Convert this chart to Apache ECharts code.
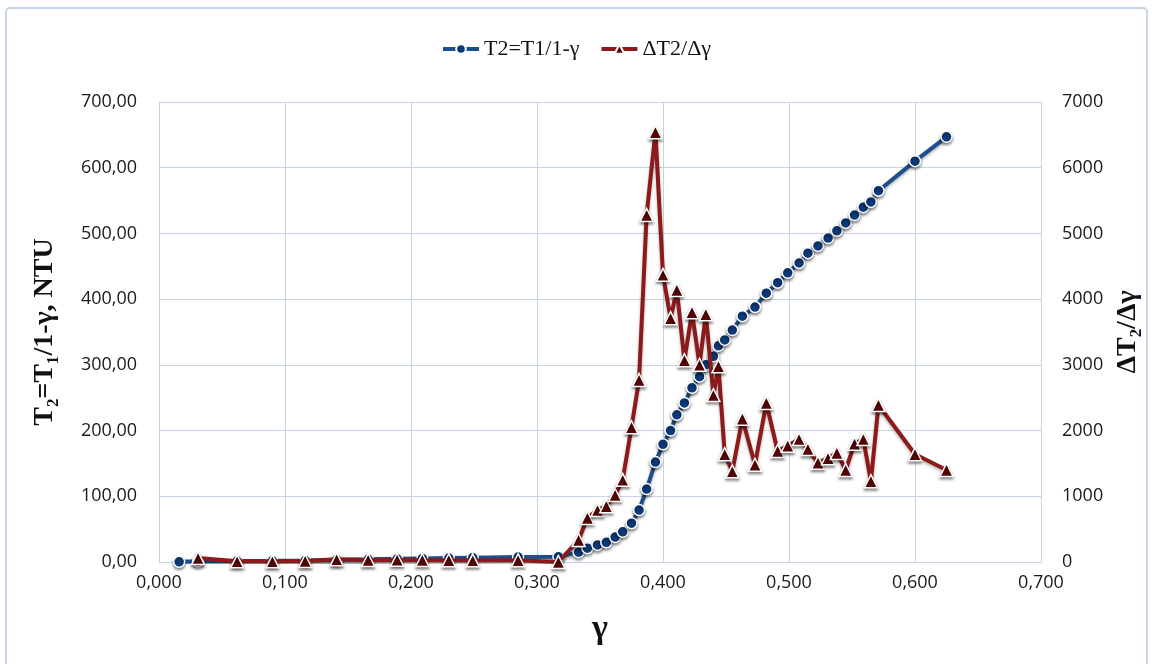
<!DOCTYPE html>
<html>
<head>
<meta charset="utf-8">
<script src="https://cdn.jsdelivr.net/npm/echarts@6/dist/echarts.min.js"></script>
<style>
html,body{margin:0;padding:0;background:#fff;}
#c{width:1152px;height:664px;}
</style>
</head>
<body>
<div id="c"></div>
<script>
// γ values (shared x positions)
const gamma = [0.016,0.031,0.062,0.090,0.116,0.141,0.166,0.189,0.209,0.230,0.249,0.285,0.317,
  0.333,0.340,0.348,0.355,0.362,0.368,0.375,0.381,0.387,0.394,0.400,0.406,0.411,0.417,0.423,0.429,0.434,0.440,0.444,0.449,0.455,
  0.463,0.473,0.482,0.491,0.499,0.508,0.515,0.523,0.531,0.538,0.545,0.552,0.559,0.565,0.571,0.600,0.625];
// T2 = T1/1-γ (left axis)
const t2 = [0.3,1.2,1.5,1.8,2.2,3.2,4.0,4.8,5.4,6.0,6.5,7.5,8.0,
  15,21,26,30,38,46,59,79,111,152,179,200,224,242,265,282,300,313,329,338,353,
  374,388,409,425,440,455,470,481,493,504,516,528,540,548,565,610,647];
// ΔT2/Δγ (right axis), starts at gamma[1]
const dT2 = [60,10,10,15,40,32,34,30,28,26,28,0,
  335,670,790,850,1020,1250,2050,2770,5280,6540,4370,3710,4140,3070,3800,3000,3770,2540,2980,1640,1380,
  2180,1480,2420,1690,1770,1870,1720,1510,1580,1660,1400,1800,1870,1230,2390,1640,1400];
const xTicks = [0,0.1,0.2,0.3,0.4,0.5,0.6,0.7];

const blueData = gamma.map((g,i)=>[g,t2[i]]);
const redData = dT2.map((v,i)=>[gamma[i+1],v]);

const chart = echarts.init(document.getElementById('c'));
const labelFont = {color:'#1a1a1a', fontSize:18, fontFamily:'Open Sans, Noto Sans, sans-serif'};
const gridColor = '#c6d3e3';
chart.setOption({
  animation:false,
  backgroundColor:'#fff',
  graphic:[{type:'rect', shape:{x:6,y:8,width:1141,height:680,r:4}, style:{fill:'none',stroke:'#c5d4e6',lineWidth:2}, z:-10}],
  legend:{
    top:33, left:'center', itemWidth:36, itemHeight:12, itemGap:20,
    lineStyle:{width:4},
    textStyle:{fontFamily:'Liberation Serif, DejaVu Serif, serif', fontSize:22, color:'#111'},
    data:['T2=T1/1-γ','ΔT2/Δγ']
  },
  grid:{left:159, right:111, top:102, bottom:102},
  xAxis:{
    type:'value', min:0, max:0.7, interval:0.1,
    name:'γ', nameLocation:'middle', nameGap:50,
    nameTextStyle:{fontFamily:'Liberation Serif, DejaVu Serif, serif', fontSize:34, fontWeight:'bold', color:'#111'},
    axisLine:{show:true, lineStyle:{color:gridColor}},
    axisTick:{show:false},
    axisLabel:Object.assign({margin:12, formatter:v=>v.toFixed(3).replace('.',',')}, labelFont),
    splitLine:{show:true, lineStyle:{color:gridColor, width:1}}
  },
  yAxis:[{
    type:'value', min:0, max:700, interval:100, position:'left',
    name:'T₂=T₁/1-γ, NTU', nameLocation:'middle', nameRotate:90, nameGap:100,
    nameTextStyle:{fontFamily:'Liberation Serif, DejaVu Serif, serif', fontSize:28, fontWeight:'bold', color:'#111'},
    axisLine:{show:true, lineStyle:{color:gridColor}},
    axisTick:{show:false},
    axisLabel:Object.assign({margin:22, formatter:v=>v.toFixed(2).replace('.',',')}, labelFont),
    splitLine:{show:true, lineStyle:{color:gridColor, width:1}}
  },{
    type:'value', min:0, max:7000, interval:1000, position:'right',
    name:'ΔT₂/Δγ', nameLocation:'middle', nameRotate:90, nameGap:72,
    nameTextStyle:{fontFamily:'Liberation Serif, DejaVu Serif, serif', fontSize:28, fontWeight:'bold', color:'#111'},
    axisLine:{show:true, lineStyle:{color:gridColor}},
    axisTick:{show:false},
    axisLabel:Object.assign({margin:21, formatter:v=>String(Math.round(v))}, labelFont),
    splitLine:{show:false}
  }],
  series:[{
    name:'T2=T1/1-γ', type:'line', yAxisIndex:0, data:blueData,
    symbol:'circle', symbolSize:11, showSymbol:true,
    lineStyle:{color:'#1d4f8c', width:4, shadowColor:'rgba(0,0,0,0.3)', shadowBlur:3, shadowOffsetY:2},
    itemStyle:{color:'#0c3a7a', borderColor:'#fff', borderWidth:1.5, shadowColor:'rgba(0,0,0,0.45)', shadowBlur:3, shadowOffsetY:2},
    z:2
  },{
    name:'ΔT2/Δγ', type:'line', yAxisIndex:1, data:redData,
    symbol:'triangle', symbolSize:13, showSymbol:true,
    lineStyle:{color:'#8c1a1a', width:4, shadowColor:'rgba(0,0,0,0.3)', shadowBlur:3, shadowOffsetY:2},
    itemStyle:{color:'#5a0606', borderColor:'#fff', borderWidth:1.5, shadowColor:'rgba(0,0,0,0.45)', shadowBlur:3, shadowOffsetY:2},
    z:3
  }]
});
</script>
</body>
</html>
